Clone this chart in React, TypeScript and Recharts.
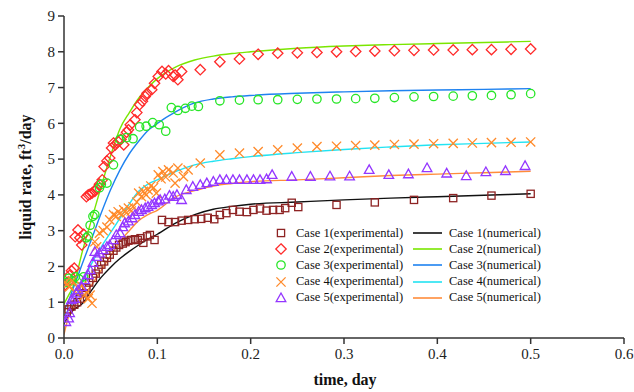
import React from "react";
import {
  ComposedChart,
  Line,
  Scatter,
  XAxis,
  YAxis,
} from "recharts";

// experimental points: [time (day), liquid rate (ft3/day)]
const case1Exp: [number, number][] = [
  [0.003, 0.72], [0.005, 0.8], [0.008, 0.88], [0.011, 0.93], [0.014, 1.0], [0.017, 1.1],
  [0.021, 1.25], [0.024, 1.4], [0.027, 1.55], [0.031, 1.68], [0.034, 1.8], [0.037, 1.92],
  [0.04, 2.05], [0.043, 2.14], [0.046, 2.24], [0.049, 2.33], [0.053, 2.44], [0.056, 2.53],
  [0.059, 2.6], [0.063, 2.64], [0.066, 2.68], [0.069, 2.72], [0.072, 2.74], [0.076, 2.76],
  [0.079, 2.74], [0.082, 2.79], [0.085, 2.66], [0.089, 2.84], [0.092, 2.88], [0.097, 2.74],
  [0.105, 3.3], [0.112, 3.24], [0.119, 3.24], [0.126, 3.28], [0.133, 3.3], [0.14, 3.32],
  [0.147, 3.33], [0.154, 3.36], [0.161, 3.32], [0.167, 3.44], [0.174, 3.49], [0.181, 3.58],
  [0.188, 3.53], [0.196, 3.52], [0.203, 3.58], [0.21, 3.62], [0.217, 3.56], [0.224, 3.58],
  [0.231, 3.58], [0.237, 3.63], [0.244, 3.78], [0.251, 3.66], [0.292, 3.72], [0.333, 3.79],
  [0.375, 3.86], [0.417, 3.91], [0.458, 3.98], [0.5, 4.03],
];

const case2Exp: [number, number][] = [
  [0.001, 1.48], [0.005, 1.57], [0.006, 1.75], [0.008, 1.88], [0.011, 1.95], [0.012, 2.83],
  [0.015, 3.02], [0.017, 2.8], [0.019, 2.6], [0.021, 2.9], [0.024, 3.95], [0.026, 4.0],
  [0.028, 4.02], [0.03, 4.05], [0.033, 4.1], [0.035, 4.18], [0.038, 4.3], [0.041, 4.42],
  [0.043, 4.79], [0.046, 4.95], [0.049, 5.03], [0.051, 5.31], [0.053, 5.45], [0.055, 5.4],
  [0.058, 5.49], [0.061, 5.55], [0.064, 5.4], [0.067, 5.75], [0.069, 5.82], [0.071, 5.96],
  [0.076, 6.1], [0.078, 6.3], [0.081, 6.52], [0.084, 6.62], [0.087, 6.75], [0.089, 6.84],
  [0.094, 6.94], [0.097, 7.12], [0.101, 7.31], [0.105, 7.45], [0.109, 7.38], [0.112, 7.47],
  [0.117, 7.31], [0.119, 7.35], [0.122, 7.22], [0.126, 7.45], [0.146, 7.5], [0.167, 7.72],
  [0.188, 7.8], [0.208, 7.93], [0.229, 7.96], [0.25, 7.97], [0.271, 7.98], [0.292, 8.0],
  [0.3125, 8.01], [0.333, 8.02], [0.354, 8.03], [0.375, 8.04], [0.396, 8.05], [0.417, 8.05],
  [0.4375, 8.06], [0.458, 8.06], [0.479, 8.07], [0.5, 8.08],
];

const case3Exp: [number, number][] = [
  [0.002, 1.55], [0.005, 1.67], [0.009, 1.6], [0.012, 1.71], [0.016, 1.65], [0.021, 1.71],
  [0.024, 2.8], [0.026, 2.85], [0.028, 3.15], [0.031, 3.4], [0.033, 3.45], [0.038, 4.2],
  [0.04, 4.3], [0.046, 4.33], [0.053, 4.84], [0.06, 5.55], [0.067, 5.6], [0.074, 5.57],
  [0.081, 5.9], [0.088, 5.92], [0.095, 6.02], [0.102, 5.96], [0.109, 5.78], [0.115, 6.44],
  [0.122, 6.36], [0.13, 6.42], [0.137, 6.48], [0.144, 6.47], [0.167, 6.63], [0.188, 6.65],
  [0.208, 6.66], [0.229, 6.66], [0.25, 6.67], [0.271, 6.68], [0.292, 6.68], [0.3125, 6.69],
  [0.333, 6.7], [0.354, 6.72], [0.375, 6.74], [0.396, 6.75], [0.417, 6.76], [0.4375, 6.77],
  [0.458, 6.78], [0.479, 6.8], [0.5, 6.83],
];

const case4Exp: [number, number][] = [
  [0.001, 1.55], [0.003, 1.5], [0.006, 1.43], [0.009, 1.6], [0.012, 1.3], [0.015, 1.4],
  [0.019, 1.45], [0.022, 1.2], [0.026, 1.1], [0.028, 1.2], [0.03, 0.97], [0.033, 2.69],
  [0.035, 2.55], [0.038, 2.93], [0.042, 3.0], [0.046, 3.1], [0.049, 3.3], [0.053, 3.45],
  [0.056, 3.4], [0.058, 3.53], [0.062, 3.45], [0.064, 3.58], [0.067, 3.5], [0.069, 3.63],
  [0.072, 3.55], [0.074, 3.67], [0.078, 3.8], [0.08, 4.05], [0.083, 3.95], [0.085, 4.1],
  [0.088, 4.0], [0.09, 4.14], [0.093, 4.25], [0.096, 4.2], [0.099, 4.05], [0.101, 4.56],
  [0.104, 4.45], [0.106, 4.65], [0.109, 4.5], [0.112, 4.7], [0.117, 4.61], [0.119, 4.33],
  [0.122, 4.75], [0.128, 4.51], [0.133, 4.7], [0.146, 4.89], [0.167, 5.12], [0.188, 5.17],
  [0.208, 5.21], [0.229, 5.26], [0.25, 5.31], [0.271, 5.35], [0.292, 5.36], [0.3125, 5.38],
  [0.333, 5.39], [0.354, 5.41], [0.375, 5.42], [0.396, 5.43], [0.417, 5.44], [0.4375, 5.45],
  [0.458, 5.46], [0.479, 5.47], [0.5, 5.48],
];

const case5Exp: [number, number][] = [
  [0.002, 0.45], [0.005, 0.55], [0.006, 0.7], [0.008, 1.06], [0.011, 1.1], [0.013, 1.25],
  [0.015, 1.34], [0.019, 1.43], [0.022, 1.62], [0.026, 1.76], [0.028, 1.9], [0.031, 2.1],
  [0.033, 2.41], [0.035, 2.27], [0.038, 2.37], [0.042, 2.46], [0.046, 2.55], [0.049, 2.6],
  [0.053, 2.74], [0.056, 2.88], [0.06, 2.93], [0.063, 3.1], [0.065, 3.21], [0.069, 3.26],
  [0.073, 3.35], [0.076, 3.44], [0.08, 3.53], [0.083, 3.58], [0.087, 3.63], [0.09, 3.67],
  [0.094, 3.72], [0.097, 3.77], [0.101, 3.82], [0.103, 3.86], [0.108, 3.88], [0.113, 3.98],
  [0.117, 3.95], [0.121, 4.0], [0.126, 3.86], [0.131, 4.14], [0.138, 4.23], [0.146, 4.28],
  [0.153, 4.33], [0.16, 4.37], [0.167, 4.42], [0.174, 4.42], [0.181, 4.42], [0.188, 4.42],
  [0.196, 4.42], [0.203, 4.42], [0.21, 4.42], [0.217, 4.44], [0.223, 4.56], [0.244, 4.51],
  [0.264, 4.51], [0.285, 4.52], [0.306, 4.52], [0.327, 4.7], [0.348, 4.56], [0.369, 4.58],
  [0.389, 4.75], [0.41, 4.6], [0.431, 4.53], [0.452, 4.64], [0.473, 4.67], [0.494, 4.81],
];

// numerical curves, sampled on a shared time grid
const numTime = [
  0, 0.005, 0.01, 0.02, 0.03, 0.04, 0.05, 0.06, 0.07, 0.08, 0.09, 0.1, 0.12, 0.14, 0.16,
  0.18, 0.2, 0.25, 0.3, 0.35, 0.4, 0.45, 0.5,
];
const case1Num = [
  0.4, 0.62, 0.78, 0.97, 1.35, 1.7, 1.98, 2.22, 2.42, 2.6, 2.76, 2.9, 3.22, 3.45, 3.6,
  3.68, 3.74, 3.8, 3.86, 3.91, 3.95, 3.99, 4.03,
];
const case2Num = [
  0.95, 1.2, 1.45, 2.45, 3.35, 4.25, 5.1, 5.85, 6.3, 6.7, 7.0, 7.25, 7.58, 7.77, 7.88,
  7.95, 8.0, 8.1, 8.16, 8.2, 8.23, 8.26, 8.29,
];
const case3Num = [
  0.75, 1.05, 1.4, 2.1, 2.8, 3.5, 4.15, 4.7, 5.15, 5.5, 5.8, 6.0, 6.33, 6.57, 6.68, 6.74,
  6.78, 6.84, 6.88, 6.91, 6.93, 6.95, 6.97,
];
const case4Num = [
  0.6, 0.8, 1.0, 1.55, 2.1, 2.55, 2.95, 3.35, 3.75, 4.1, 4.3, 4.42, 4.66, 4.84, 4.94,
  5.01, 5.07, 5.18, 5.27, 5.34, 5.4, 5.44, 5.48,
];
const case5Num = [
  0.1, 0.6, 0.85, 1.15, 1.5, 1.9, 2.3, 2.7, 3.0, 3.28, 3.45, 3.57, 3.95, 4.12, 4.25,
  4.32, 4.37, 4.42, 4.48, 4.54, 4.58, 4.62, 4.66,
];

const xTicks = [0, 0.1, 0.2, 0.3, 0.4, 0.5, 0.6];
const yTicks = [0, 1, 2, 3, 4, 5, 6, 7, 8, 9];

type Kind = "square" | "diamond" | "circle" | "cross" | "triangle";

const expSeries: { name: string; kind: Kind; color: string; pts: [number, number][] }[] = [
  { name: "Case 1(experimental)", kind: "square", color: "#8e2323", pts: case1Exp },
  { name: "Case 2(experimental)", kind: "diamond", color: "#ff2a2a", pts: case2Exp },
  { name: "Case 3(experimental)", kind: "circle", color: "#27e627", pts: case3Exp },
  { name: "Case 4(experimental)", kind: "cross", color: "#ff8a2a", pts: case4Exp },
  { name: "Case 5(experimental)", kind: "triangle", color: "#9436ff", pts: case5Exp },
];

const numSeries = [
  { name: "Case 1(numerical)", color: "#111111", vals: case1Num },
  { name: "Case 2(numerical)", color: "#7ae600", vals: case2Num },
  { name: "Case 3(numerical)", color: "#1f82f0", vals: case3Num },
  { name: "Case 4(numerical)", color: "#22e3f2", vals: case4Num },
  { name: "Case 5(numerical)", color: "#ff8c3a", vals: case5Num },
];

const FONT = "'Liberation Serif', 'Times New Roman', serif";

function Marker({ kind, color, cx, cy }: { kind: Kind; color: string; cx: number; cy: number }) {
  const sw = 1.3;
  if (kind === "square")
    return <rect x={cx - 3.6} y={cy - 3.6} width={7.2} height={7.2} fill="none" stroke={color} strokeWidth={sw} />;
  if (kind === "diamond")
    return (
      <path
        d={`M${cx},${cy - 5.2}L${cx + 5.2},${cy}L${cx},${cy + 5.2}L${cx - 5.2},${cy}Z`}
        fill="none"
        stroke={color}
        strokeWidth={sw}
      />
    );
  if (kind === "circle") return <circle cx={cx} cy={cy} r={4.2} fill="none" stroke={color} strokeWidth={sw} />;
  if (kind === "cross")
    return (
      <path
        d={`M${cx - 4.6},${cy - 4.6}L${cx + 4.6},${cy + 4.6}M${cx - 4.6},${cy + 4.6}L${cx + 4.6},${cy - 4.6}`}
        stroke={color}
        strokeWidth={sw}
      />
    );
  return (
    <path
      d={`M${cx},${cy - 5}L${cx + 4.8},${cy + 3.6}L${cx - 4.8},${cy + 3.6}Z`}
      fill="none"
      stroke={color}
      strokeWidth={sw}
    />
  );
}

// legend drawn as an overlay so it doesn't eat into the plot area
function LegendBox() {
  const rowH = 16.2;
  return (
    <div style={{ position: "absolute", left: 273, top: 225, width: 270, height: 90, fontSize: 12.5, color: "#111" }}>
      {expSeries.map((s, i) => (
        <div key={s.name} style={{ position: "absolute", left: 0, top: i * rowH, height: rowH, display: "flex", alignItems: "center" }}>
          <svg width={16} height={14}>
            <Marker kind={s.kind} color={s.color} cx={8} cy={7} />
          </svg>
          <span style={{ marginLeft: 7, whiteSpace: "nowrap" }}>{s.name}</span>
        </div>
      ))}
      {numSeries.map((s, i) => (
        <div key={s.name} style={{ position: "absolute", left: 140, top: i * rowH, height: rowH, display: "flex", alignItems: "center" }}>
          <svg width={30} height={14}>
            <line x1={0} x2={29} y1={7} y2={7} stroke={s.color} strokeWidth={1.6} />
          </svg>
          <span style={{ marginLeft: 6, whiteSpace: "nowrap" }}>{s.name}</span>
        </div>
      ))}
    </div>
  );
}

export default function App() {
  return (
    <div style={{ position: "relative", width: 634, height: 392, background: "#fff", fontFamily: FONT }}>
      <style>{`body{margin:0} svg text, .recharts-text { font-family: ${FONT} !important; }`}</style>
      <ComposedChart width={634} height={392} margin={{ top: 16, right: 10, bottom: 0, left: 0 }}>
        <XAxis
          dataKey="t"
          type="number"
          domain={[0, 0.6]}
          ticks={xTicks}
          allowDataOverflow
          height={54}
          tickSize={6}
          tickMargin={4}
          stroke="#333"
          strokeWidth={1.5}
          tick={{ fill: "#222", fontSize: 15 }}
          tickFormatter={(v: number) => v.toFixed(1)}
          label={{
            content: () => (
              <text x={345} y={385} textAnchor="middle" fontWeight="bold" fontSize={16} fill="#111">
                time, day
              </text>
            ),
          }}
        />
        <YAxis
          dataKey="y"
          type="number"
          domain={[0, 9]}
          ticks={yTicks}
          allowDataOverflow
          width={64}
          tickSize={6}
          tickMargin={3}
          stroke="#333"
          strokeWidth={1.5}
          tick={{ fill: "#222", fontSize: 15 }}
          label={{
            content: () => (
              <text
                transform="translate(31,177) rotate(-90)"
                textAnchor="middle"
                fontWeight="bold"
                fontSize={16}
                fill="#111"
              >
                liquid rate, ft
                <tspan dy={-6} fontSize={11}>3</tspan>
                <tspan dy={6}>/day</tspan>
              </text>
            ),
          }}
        />
        {expSeries.map((s) => (
          <Scatter
            key={s.name}
            name={s.name}
            data={s.pts.map(([t, y]) => ({ t, y }))}
            dataKey="y"
            isAnimationActive={false}
            shape={(p: any) => <Marker kind={s.kind} color={s.color} cx={p.cx} cy={p.cy} />}
          />
        ))}
        {numSeries.map((s) => (
          <Line
            key={s.name}
            name={s.name}
            data={numTime.map((t, i) => ({ t, y: s.vals[i] }))}
            dataKey="y"
            type="monotone"
            stroke={s.color}
            strokeWidth={1.4}
            dot={false}
            activeDot={false}
            isAnimationActive={false}
          />
        ))}
      </ComposedChart>
      <LegendBox />
    </div>
  );
}
